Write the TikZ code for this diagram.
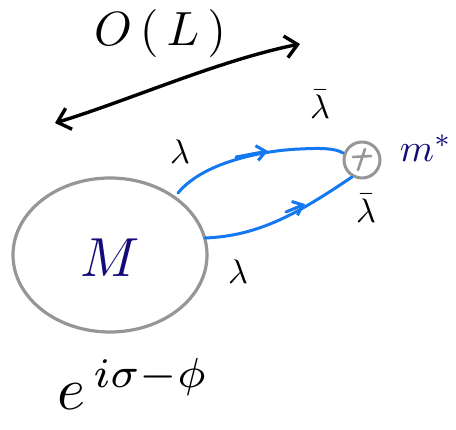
\documentclass[tikz,border=0pt]{standalone}
\usepackage{graphicx}
\usetikzlibrary{arrows.meta,calc}
\definecolor{navy}{RGB}{20,10,120}
\definecolor{lineblue}{RGB}{20,120,240}
\definecolor{ringgray}{RGB}{150,150,150}
\newcommand{\bigtxt}[2]{\scalebox{#1}{$#2$}}
\begin{document}
\begin{tikzpicture}[x=1pt,y=-1pt,line cap=round,line join=round,
  ring/.style={draw=ringgray,line width=3.2pt},
  prop/.style={draw=lineblue,line width=3pt},
  blk/.style={draw=black,line width=3.4pt},
  lbl/.style={inner sep=0pt},
  navylbl/.style={text=navy,inner sep=0pt},
  mid arrow/.style={-{Straight Barb[length=9pt,width=15pt,line width=3pt]}}]
\useasboundingbox (0,0) rectangle (456,430);
% big blob
\draw[ring] (110,255) ellipse [x radius=97, y radius=77];
\node[navylbl] (M) at (110,258) {\bigtxt{5.5}{M}};
% small circle with cross
\node[circle,draw=ringgray,line width=3pt,minimum size=36pt,inner sep=0pt] (X) at (362,160) {};
\draw[ringgray,line width=2.6pt] ($(X)+(-9,-3)$) -- ($(X)+(9,-4)$);
\draw[ringgray,line width=2.6pt] ($(X)+(3,-11)$) -- ($(X)+(-4,10)$);
\node[navylbl] (ms) at (426,148) {\bigtxt{3.9}{m^{*}}};
% coordinates for propagator endpoints
\coordinate (a1) at (178,193);
\coordinate (b1) at (343,153);
\coordinate (a2) at (205,238);
\coordinate (b2) at (352,177);
\draw[prop] (a1) .. controls (205,160) and (270,150) .. (300,149) .. controls (320,148) and (335,148) .. (b1);
\draw[prop,mid arrow] (236,157) -- (268,151);
\draw[prop] (a2) .. controls (260,236) and (300,212) .. (b2);
\draw[prop,mid arrow] (286,212) -- (305,204);
% labels
\node[lbl] (l1) at (180,152) {\bigtxt{3.4}{\lambda}};
\node[lbl] (l2) at (320,104) {\bigtxt{3.4}{\bar\lambda}};
\node[lbl] (l3) at (366,208) {\bigtxt{3.4}{\bar\lambda}};
\node[lbl] (l4) at (238,272) {\bigtxt{3.4}{\lambda}};
% O(L)
\node[lbl] (OL) at (160,34) {\bigtxt{4.8}{O\,(\,L\,)}};
\coordinate (p1) at (55,123);
\coordinate (p2) at (300,44);
\draw[blk,{Straight Barb[length=12pt,width=22pt,line width=3.4pt]}-{Straight Barb[length=12pt,width=22pt,line width=3.4pt]}] (p1) .. controls (130,100) and (220,60) .. (p2);
% exponent
\node[lbl] (E) at (133,384) {\bigtxt{6}{e^{\,i\sigma-\phi}}};
\end{tikzpicture}
\end{document}
